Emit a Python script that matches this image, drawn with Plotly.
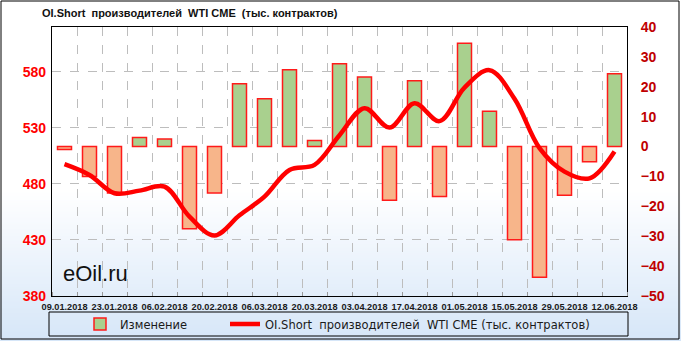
import plotly.graph_objects as go
import base64, zlib, struct

# ---------------- data ----------------
dates = ["09.01.2018", "16.01.2018", "23.01.2018", "30.01.2018", "06.02.2018", "13.02.2018",
         "20.02.2018", "27.02.2018", "06.03.2018", "13.03.2018", "20.03.2018", "27.03.2018",
         "03.04.2018", "10.04.2018", "17.04.2018", "24.04.2018", "01.05.2018", "08.05.2018",
         "15.05.2018", "22.05.2018", "29.05.2018", "05.06.2018", "12.06.2018"]
change = [-1, -10, -15.5, 3, 2.5, -27.5, -15.5, 21, 16, 25.7, 2, 27.7,
          23.3, -18, 22, -16.7, 34.6, 11.8, -31.2, -43.7, -16.3, -5.1, 24.4]
oi_short = [497.6, 488, 471.7, 474, 477.6, 450.8, 434, 452, 468.7, 492.5, 497, 523.5,
            547.6, 530.3, 552, 536, 566, 581.5, 556, 512, 491, 485, 509]

title_txt = "OI.Short\u00a0\u00a0производителей\u00a0\u00a0WTI\u00a0CME\u00a0\u00a0(тыс.\u00a0контрактов)"
legend_bar = "Изменение"
legend_line = "OI.Short\u00a0\u00a0производителей\u00a0\u00a0WTI\u00a0CME\u00a0(тыс.\u00a0контрактов)"

# ---------------- geometry helpers ----------------
W, H = 681, 341
L, R, T, B = 52, 627, 27, 296


def px(x):
    return (x - L) / (R - L)


def py(y):
    return (B - y) / (B - T)


# gradient background PNG (1 x H)
def gradient_png():
    rows = b""
    top = (255, 255, 255)
    bot = (214, 230, 248)
    start = 190
    for yy in range(H):
        if yy < start:
            c = top
        else:
            t = (yy - start) / (H - 1 - start)
            c = tuple(int(round(top[i] + (bot[i] - top[i]) * t)) for i in range(3))
        rows += b"\x00" + bytes(c)

    def chunk(tag, data):
        return struct.pack(">I", len(data)) + tag + data + struct.pack(">I", zlib.crc32(tag + data) & 0xffffffff)
    png = b"\x89PNG\r\n\x1a\n"
    png += chunk(b"IHDR", struct.pack(">IIBBBBB", 1, H, 8, 2, 0, 0, 0))
    png += chunk(b"IDAT", zlib.compress(rows))
    png += chunk(b"IEND", b"")
    return "data:image/png;base64," + base64.b64encode(png).decode()


idx = list(range(len(dates)))
pos_vals = [v if v >= 0 else None for v in change]
neg_vals = [v if v < 0 else None for v in change]

fig = go.Figure()
fig.add_trace(go.Bar(x=idx, y=pos_vals, name=legend_bar, width=0.56, legend="legend",
                     marker=dict(color="#a9d08e", line=dict(color="#ff1a1a", width=1.5)),
                     yaxis="y"))
fig.add_trace(go.Bar(x=idx, y=neg_vals, name=legend_bar, width=0.56, showlegend=False,
                     marker=dict(color="#f7b58a", line=dict(color="#ff1a1a", width=1.5)),
                     yaxis="y"))
fig.add_trace(go.Scatter(x=idx, y=oi_short, name=legend_line, mode="lines", legend="legend2",
                         line=dict(color="#ff0000", width=4.5, shape="spline", smoothing=1.0),
                         yaxis="y2"))

legend_font = dict(family="DejaVu Sans", size=11.5, color="#1a1a1a")

fig.update_layout(
    width=W, height=H,
    margin=dict(l=L, r=W - R, t=T, b=H - B, autoexpand=False),
    paper_bgcolor="white",
    plot_bgcolor="rgba(0,0,0,0)",
    barmode="overlay",
    showlegend=True,
    xaxis=dict(range=[-0.5, len(dates) - 0.5], tickvals=idx[::2], ticktext=dates[::2],
               tickangle=0, showgrid=False, zeroline=False, showline=True, mirror=True,
               linecolor="black", linewidth=1, ticks="", ticklabelstandoff=2,
               tickfont=dict(family="Liberation Sans", size=9.2, color="#1a1a1a", weight="bold"),
               minor=dict(tick0=0.5, dtick=1, showgrid=True, gridcolor="#bdbdbd",
                          griddash="dash", gridwidth=1, ticks="inside", ticklen=4,
                          tickcolor="#999999")),
    yaxis=dict(side="right", range=[-50, 40], dtick=10, tick0=0, showgrid=False,
               zeroline=False, showline=True, mirror=True, linecolor="black", linewidth=1,
               ticks="", ticklabelstandoff=10,
               tickfont=dict(family="Liberation Sans", size=14, color="#c00000", weight="bold")),
    yaxis2=dict(overlaying="y", side="left", range=[380, 620], tick0=380, dtick=50,
                showgrid=True, gridcolor="#bdbdbd", griddash="dash", gridwidth=1,
                zeroline=False, showline=False, ticks="", ticklabelstandoff=5,
                tickfont=dict(family="Liberation Sans", size=14, color="#ff0000", weight="bold")),
    legend=dict(orientation="h", x=px(80), xanchor="left", y=py(324), yanchor="middle",
                bgcolor="rgba(0,0,0,0)", borderwidth=0, font=legend_font),
    legend2=dict(orientation="h", x=px(225), xanchor="left", y=py(324), yanchor="middle",
                 bgcolor="rgba(0,0,0,0)", borderwidth=0, font=legend_font),
    images=[dict(source=gradient_png(), xref="paper", yref="paper", x=px(0), y=py(0),
                 sizex=W / (R - L), sizey=H / (B - T), sizing="stretch",
                 xanchor="left", yanchor="top", layer="below")],
    shapes=[
        dict(type="rect", xref="paper", yref="paper", x0=px(1), x1=px(679), y0=py(1), y1=py(339),
             line=dict(color="black", width=1), fillcolor="rgba(0,0,0,0)", layer="below"),
        dict(type="rect", xref="paper", yref="paper", x0=px(49), x1=px(628), y0=py(312), y1=py(336),
             line=dict(color="black", width=1), fillcolor="rgba(0,0,0,0)", layer="below"),
    ],
    annotations=[
        dict(text="<b>" + title_txt + "</b>", xref="paper", yref="paper", x=px(40), y=py(13),
             xanchor="left", yanchor="middle", showarrow=False,
             font=dict(family="Liberation Sans", size=11, color="#111111")),
        dict(text="eOil.ru", xref="paper", yref="paper", x=px(61), y=py(273),
             xanchor="left", yanchor="middle", showarrow=False,
             font=dict(family="Liberation Sans", size=22, color="#111111")),
    ],
)

fig.write_html("out.html")
